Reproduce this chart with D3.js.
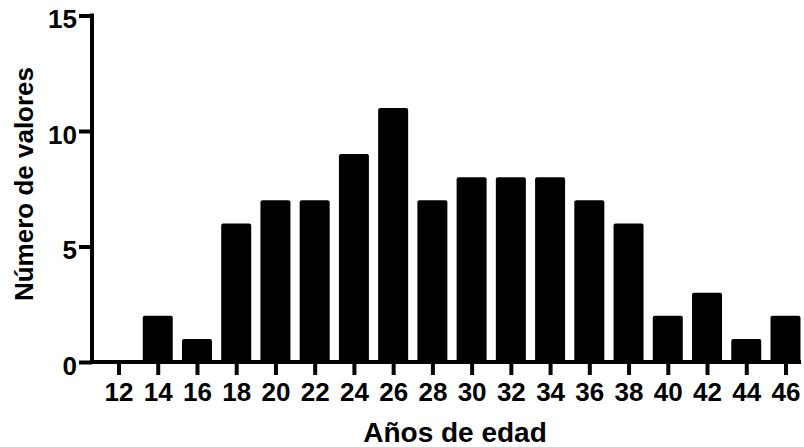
<!DOCTYPE html>
<html>
<head>
<meta charset="utf-8">
<script src="https://cdn.jsdelivr.net/npm/d3@7"></script>
<style>
  html, body { margin: 0; padding: 0; background: #fff; }
  svg { display: block; }
  text { font-family: "Liberation Sans", Arial, Helvetica, sans-serif; font-weight: bold; fill: #000; }
</style>
</head>
<body>
<svg id="chart" width="804" height="447"></svg>
<script>
const ages = [12, 14, 16, 18, 20, 22, 24, 26, 28, 30, 32, 34, 36, 38, 40, 42, 44, 46];
const counts = [0, 2, 1, 6, 7, 7, 9, 11, 7, 8, 8, 8, 7, 6, 2, 3, 1, 2];
const yTicks = [0, 5, 10, 15];
const xTitle = "Años de edad";
const yTitle = "Número de valores";

const svg = d3.select("#chart");
const axisX0 = 92, axisX1 = 801;
const x = d3.scaleLinear().domain([12, 46]).range([118.5, 785.5]);
const y = d3.scaleLinear().domain([0, 15]).range([362, 15.5]);
const barW = 30;

// bars
svg.append("g").selectAll("rect")
  .data(ages.map((a, i) => ({a, v: counts[i]})).filter(d => d.v > 0))
  .join("rect")
  .attr("x", d => x(d.a) - barW / 2)
  .attr("y", d => y(d.v))
  .attr("width", barW)
  .attr("height", d => y(0) - y(d.v))
  .attr("rx", 2)
  .attr("fill", "#000");

// y axis
const yAxis = d3.axisLeft(y).tickValues(yTicks).tickSize(13).tickPadding(2).tickSizeOuter(0);
const gy = svg.append("g").attr("transform", `translate(${axisX0},0)`).call(yAxis);
gy.select(".domain").remove();
gy.append("line").attr("x1", 0).attr("x2", 0).attr("y1", y(15) - 2).attr("y2", y(0) + 2)
  .attr("stroke", "#000").attr("stroke-width", 4);
gy.selectAll(".tick line").attr("stroke", "#000").attr("stroke-width", 4);
gy.selectAll(".tick text").style("font-size", "26px").attr("dy", "0.48em")
  .style("font-family", '"Liberation Sans", Arial, sans-serif').style("font-weight", "bold");

// x axis
const xAxis = d3.axisBottom(x).tickValues(ages).tickSize(13).tickPadding(8).tickSizeOuter(0);
const gx = svg.append("g").attr("transform", `translate(0,${y(0)})`).call(xAxis);
gx.select(".domain").remove();
gx.append("line").attr("x1", axisX0 - 2).attr("x2", axisX1).attr("y1", 0).attr("y2", 0)
  .attr("stroke", "#000").attr("stroke-width", 4);
gx.selectAll(".tick line").attr("stroke", "#000").attr("stroke-width", 4);
gx.selectAll(".tick text").style("font-size", "26px")
  .style("font-family", '"Liberation Sans", Arial, sans-serif').style("font-weight", "bold");

// titles
svg.append("text").attr("x", 455).attr("y", 442).attr("text-anchor", "middle")
  .style("font-size", "28px").text(xTitle);
svg.append("text").attr("transform", "translate(33,184) rotate(-90)").attr("text-anchor", "middle")
  .style("font-size", "26px").text(yTitle);
</script>
</body>
</html>
